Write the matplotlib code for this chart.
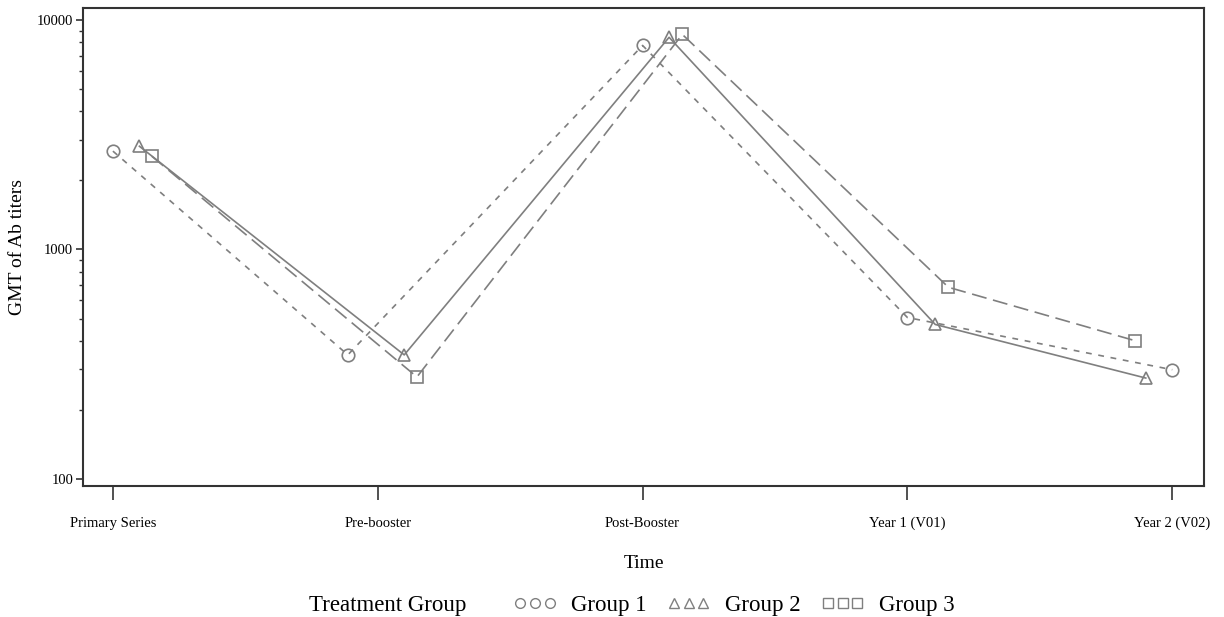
import numpy as np
import matplotlib.pyplot as plt
from matplotlib.lines import Line2D

# time points on the x axis
times = ["Primary Series", "Pre-booster", "Post-Booster", "Year 1 (V01)", "Year 2 (V02)"]

# x positions of the points (groups are shifted a bit around each time point)
g1_x = [0.0, 0.887, 2.0, 3.0, 4.0]
g2_x = [0.10, 1.10, 2.10, 3.105, 3.90]
g3_x = [0.147, 1.148, 2.15, 3.155, 3.86]

# GMT values
g1_gmt = [2685, 347, 7760, 505, 299]
g2_gmt = [2820, 347, 8420, 471, 275]
g3_gmt = [2550, 278, 8670, 684, 400]

grey = "#7f7f7f"
serif = ["Liberation Serif", "DejaVu Serif"]

fig = plt.figure(figsize=(12.24, 6.17), dpi=100)
ax = fig.add_axes([0.0678, 0.2123, 0.9159, 0.7747])

ax.plot(g1_x, g1_gmt, color=grey, lw=1.2, ls=(0, (3.5, 4)), marker="o",
        ms=9, mfc="none", mec=grey, mew=1.2)
ax.plot(g2_x, g2_gmt, color=grey, lw=1.2, ls="-", marker="^",
        ms=9, mfc="none", mec=grey, mew=1.2)
ax.plot(g3_x, g3_gmt, color=grey, lw=1.2, ls=(0, (9, 4)), marker="s",
        ms=9, mfc="none", mec=grey, mew=1.2)

ax.set_yscale("log")
ax.set_ylim(93, 11300)
ax.set_xlim(-0.113, 4.12)
ax.set_yticks([100, 1000, 10000])
ax.set_yticklabels(["100", "1000", "10000"])
ax.set_xticks(range(len(times)))
ax.set_xticklabels(times)

for lab in ax.get_xticklabels() + ax.get_yticklabels():
    lab.set_family(serif)
    lab.set_fontsize(10.5)

ax.tick_params(axis="x", direction="out", length=10, width=1.2, pad=12, color="#333333")
ax.tick_params(axis="y", which="major", direction="out", length=5, width=1.2, pad=2, color="#333333")
ax.tick_params(axis="y", which="minor", direction="out", length=3, width=1.0, color="#333333")
for s in ax.spines.values():
    s.set_linewidth(1.5)
    s.set_color("#333333")

ax.set_ylabel("GMT of Ab titers", family=serif, fontsize=14, labelpad=8)
ax.set_xlabel("Time", family=serif, fontsize=14, labelpad=18)

# legend along the bottom
fig.text(0.2525, 0.018, "Treatment Group", family=serif, fontsize=16.5, va="center")
handles = [
    Line2D([], [], ls="none", marker="o", ms=7, mfc="none", mec=grey, mew=1.0),
    Line2D([], [], ls="none", marker="^", ms=7, mfc="none", mec=grey, mew=1.0),
    Line2D([], [], ls="none", marker="s", ms=7, mfc="none", mec=grey, mew=1.0),
]
fig.legend(handles, ["Group 1", "Group 2", "Group 3"], loc="center left",
           bbox_to_anchor=(0.419, 0.018), ncol=3, numpoints=3, frameon=False,
           prop={"family": serif, "size": 16.5}, handlelength=1.9,
           handletextpad=0.65, columnspacing=0.87, borderpad=0, borderaxespad=0)

fig.savefig("out.png", dpi=100)
